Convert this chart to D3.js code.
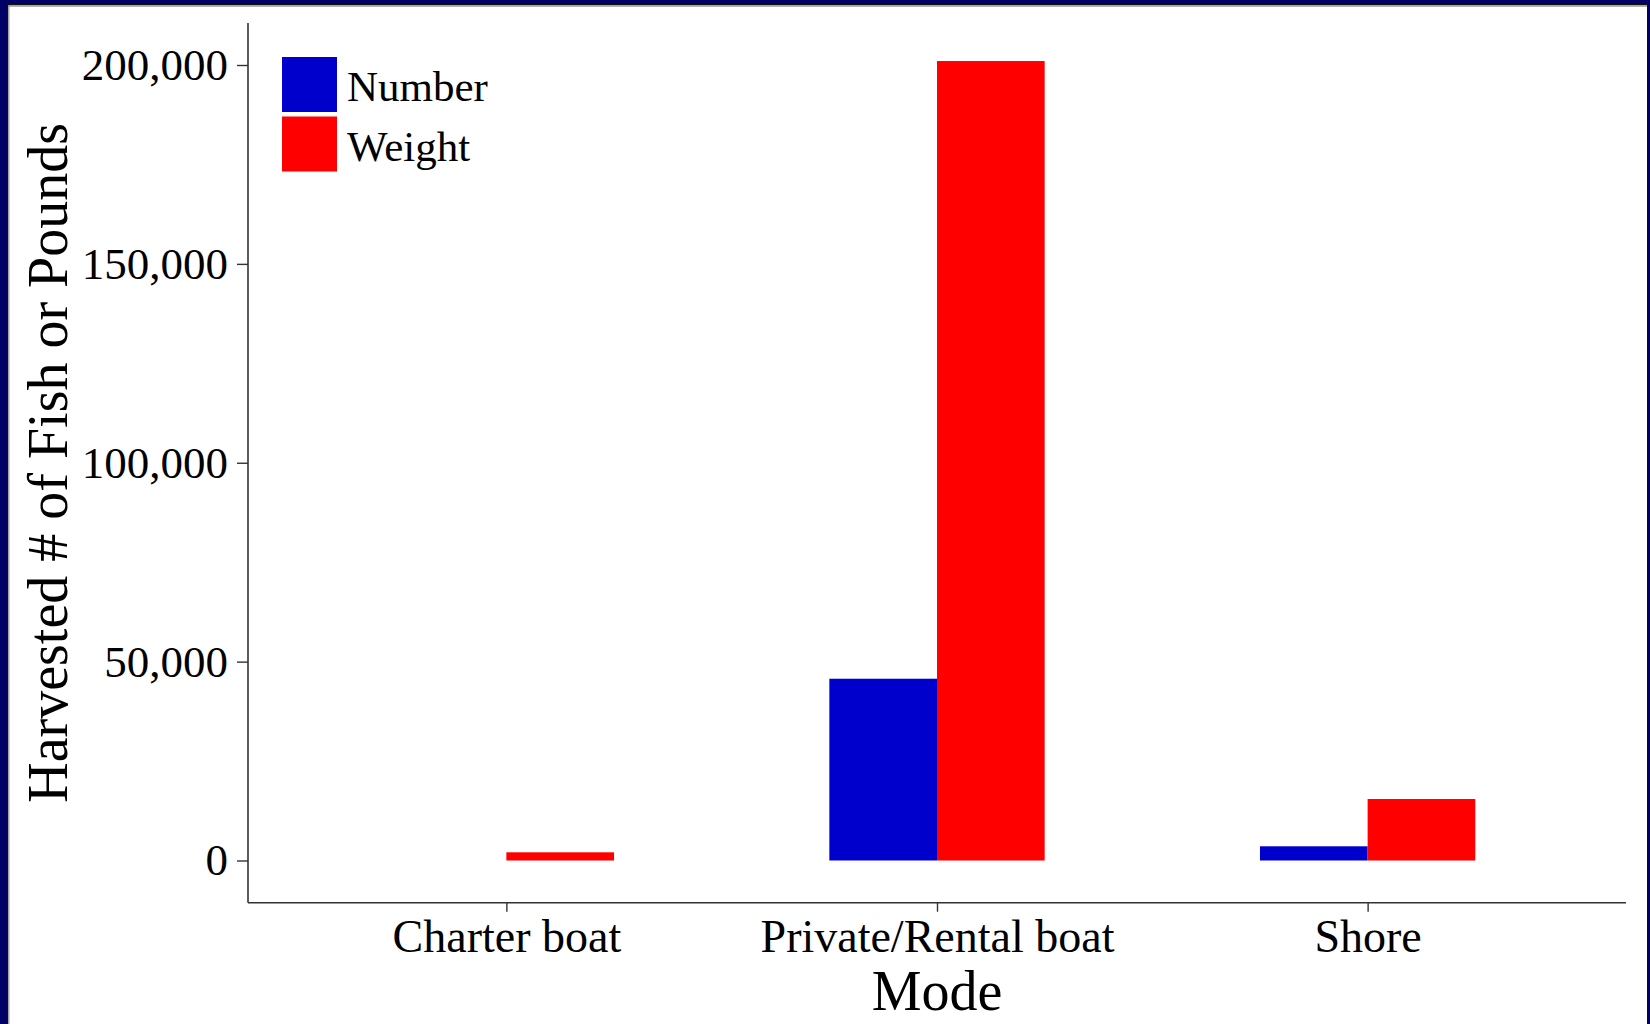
<!DOCTYPE html>
<html>
<head>
<meta charset="utf-8">
<script src="https://cdn.jsdelivr.net/npm/d3@7"></script>
<style>
  body { margin: 0; background: #fff; }
  text { font-family: "Liberation Serif", "Times New Roman", serif; fill: #000; }
</style>
</head>
<body>
<div id="chart"></div>
<script>
// data
var modes = ["Charter boat", "Private/Rental boat", "Shore"];
var seriesKeys = ["Number", "Weight"];
var numberVals = [0, 45700, 3570];
var weightVals = [2060, 201000, 15460];
var yTicks = [0, 50000, 100000, 150000, 200000];
var palette = ["#0000cc", "#ff0000"];

var W = 1650, H = 1024;
// panel edges
var pLeft = 248, pRight = 1626, pTop = 23, pBottom = 902.7;

var svg = d3.select("#chart").append("svg")
  .attr("width", W).attr("height", H);

svg.append("rect").attr("width", W).attr("height", H).attr("fill", "#fff");

// navy frame round the picture
svg.append("rect").attr("x", 0).attr("y", 0).attr("width", 7).attr("height", H).attr("fill", "#000066");
svg.append("rect").attr("x", 0).attr("y", 0).attr("width", W).attr("height", 4).attr("fill", "#000066");
svg.append("rect").attr("x", 1647).attr("y", 0).attr("width", 3).attr("height", H).attr("fill", "#000066");
svg.append("line").attr("x1", 7.5).attr("x2", 7.5).attr("y1", 4).attr("y2", H).attr("stroke", "#111").attr("stroke-width", 1.3);
svg.append("line").attr("x1", 8.8).attr("x2", 8.8).attr("y1", 5).attr("y2", H).attr("stroke", "#999").attr("stroke-width", 1.3);
svg.append("line").attr("x1", 7).attr("x2", 1647).attr("y1", 4.7).attr("y2", 4.7).attr("stroke", "#111").attr("stroke-width", 1.3);
svg.append("line").attr("x1", 8).attr("x2", 1647).attr("y1", 6).attr("y2", 6).attr("stroke", "#999").attr("stroke-width", 1.3);

/* scales */
var x = d3.scalePoint().domain(modes).range([pLeft, pRight]).padding(0.6);
var barW = x.step() * 0.25;
var y = d3.scaleLinear().domain([0, 200000]).range([860.5, 65]);

var rows = modes.map(function(m, i) {
  return {mode: m, values: [numberVals[i], weightVals[i]]};
});

/* bars */
var groups = svg.selectAll("g.grp").data(rows).enter().append("g").attr("class", "grp");
groups.selectAll("rect")
  .data(function(d) { return d.values.map(function(v, k) { return {mode: d.mode, k: k, v: v}; }); })
  .enter().append("rect")
  .attr("x", function(d) { return x(d.mode) - barW + d.k * barW; })
  .attr("width", barW)
  .attr("y", function(d) { return y(d.v); })
  .attr("height", function(d) { return y(0) - y(d.v); })
  .attr("fill", function(d) { return palette[d.k]; });

/* axes */
var yAxis = svg.append("g")
  .attr("transform", "translate(" + pLeft + ",0)")
  .call(d3.axisLeft(y).tickValues(yTicks).tickSize(11).tickPadding(9)
    .tickFormat(d3.format(",")));
yAxis.select(".domain").remove();
yAxis.selectAll(".tick line").attr("stroke", "#333").attr("stroke-width", 1.4);
yAxis.selectAll(".tick text").attr("font-size", "45px").attr("fill", "#000")
  .style("font-family", "'Liberation Serif', serif");

var xAxis = svg.append("g")
  .attr("transform", "translate(0," + pBottom + ")")
  .call(d3.axisBottom(x).tickSize(9).tickPadding(4));
xAxis.select(".domain").remove();
xAxis.selectAll(".tick line").attr("stroke", "#333").attr("stroke-width", 1.4);
xAxis.selectAll(".tick text").attr("font-size", "46px").attr("fill", "#000")
  .attr("dy", "0.8em")
  .style("font-family", "'Liberation Serif', serif");

// axis lines
svg.append("line").attr("x1", pLeft).attr("x2", pLeft).attr("y1", pTop).attr("y2", pBottom)
  .attr("stroke", "#333").attr("stroke-width", 1.6);
svg.append("line").attr("x1", pLeft).attr("x2", pRight).attr("y1", pBottom).attr("y2", pBottom)
  .attr("stroke", "#333").attr("stroke-width", 1.6);

/* axis titles */
svg.append("text")
  .attr("x", (pLeft + pRight) / 2).attr("y", 1010)
  .attr("text-anchor", "middle").attr("font-size", "56px")
  .text("Mode");
svg.append("text")
  .attr("transform", "translate(67," + ((pTop + pBottom) / 2) + ") rotate(-90)")
  .attr("text-anchor", "middle").attr("font-size", "56px")
  .text("Harvested # of Fish or Pounds");

/* legend */
var legend = svg.append("g").selectAll("g").data(seriesKeys).enter().append("g")
  .attr("transform", function(d, i) { return "translate(282," + (57 + i * 59.5) + ")"; });
legend.append("rect")
  .attr("width", 55).attr("height", 55)
  .attr("fill", function(d, i) { return palette[i]; });
legend.append("text")
  .attr("x", 65).attr("y", 44)
  .attr("font-size", "43px")
  .text(function(d) { return d; });
</script>
</body>
</html>
